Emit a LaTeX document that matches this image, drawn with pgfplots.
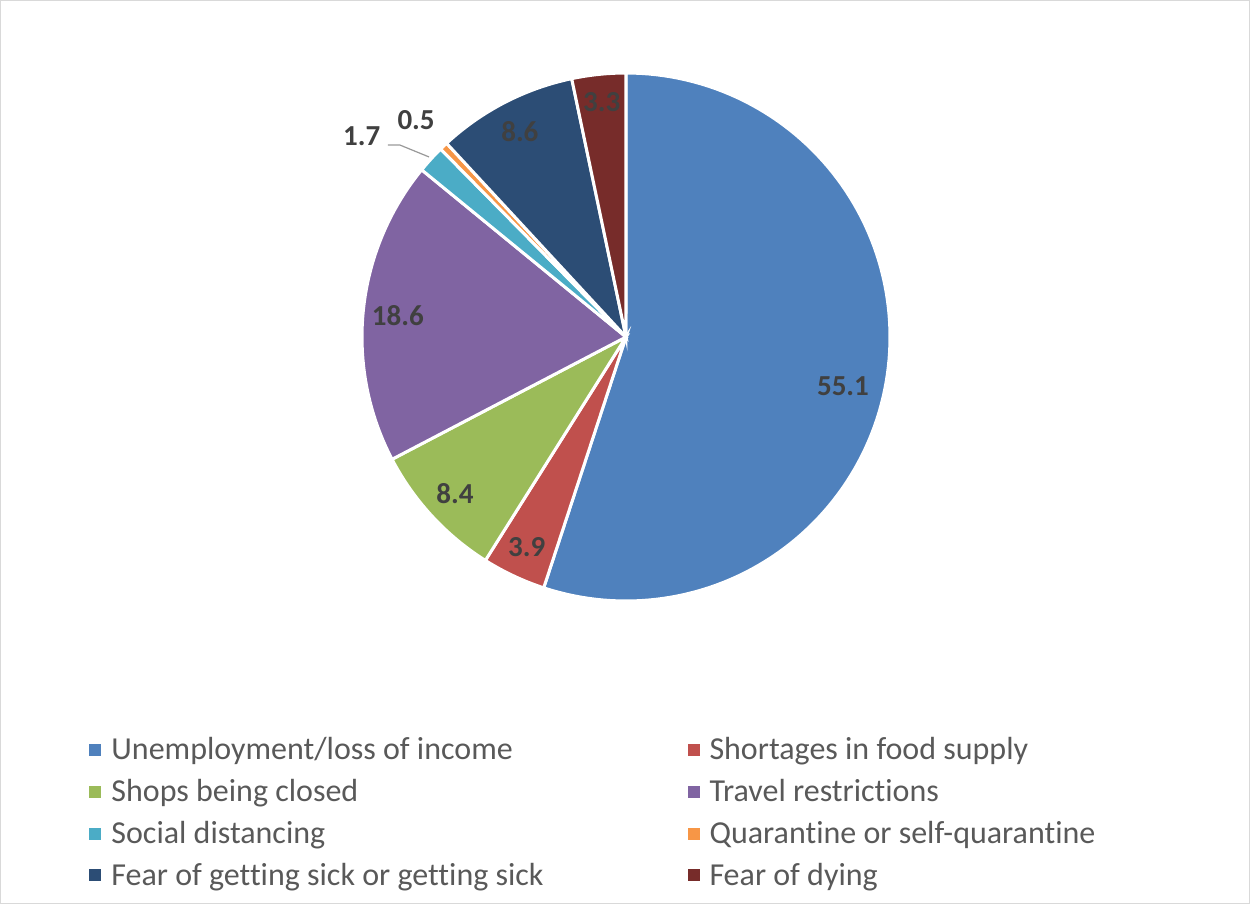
\documentclass[border=0pt]{standalone}
\usepackage{pgfplots}
\pgfplotsset{compat=1.18}
\usepackage{fontspec}
\setmainfont{Carlito}[Ligatures=NoCommon]
\definecolor{c1}{HTML}{4F81BD}
\definecolor{c2}{HTML}{C0504D}
\definecolor{c3}{HTML}{9BBB59}
\definecolor{c4}{HTML}{8064A2}
\definecolor{c5}{HTML}{4BACC6}
\definecolor{c6}{HTML}{F79646}
\definecolor{c7}{HTML}{2C4D75}
\definecolor{c8}{HTML}{772C2A}
\definecolor{lblgray}{HTML}{404040}
\definecolor{leggray}{HTML}{595959}
\definecolor{framegray}{HTML}{D9D9D9}
\begin{document}
\begin{tikzpicture}
\path[use as bounding box] (0pt,0pt) rectangle (625pt,-452pt);
\draw[framegray, line width=0.6pt] (0.3pt,-0.3pt) rectangle (624.7pt,-451.7pt);
\begin{axis}[
  at={(313pt,-168.5pt)}, anchor=center,
  x=132pt, y=132pt,
  xmin=-1, xmax=1, ymin=-1, ymax=1,
  hide axis, clip=false,
  legend columns=2,
  legend cell align=left,
  legend image code/.code={\path[#1,draw=none] (0pt,-3pt) rectangle (6pt,3pt);},
  legend style={
    at={(-0.517,-0.250)}, anchor=north west,
    draw=none, fill=none, inner sep=0pt,
    font=\fontsize{16pt}{19pt}\selectfont, text=leggray,
    row sep=4.3pt,
    /tikz/every odd column/.append style={column sep=3pt},
    /tikz/column 2/.style={column sep=70pt},
  },
]
\addplot[fill=c1, draw=white, line width=1.5pt, domain=-108.16:90, samples=120, variable=\t] ({cos(\t)},{sin(\t)}) -- (0,0) -- cycle;
\addlegendentry{Unemployment/loss of income}
\addplot[fill=c2, draw=white, line width=1.5pt, domain=-122.19:-108.16, samples=12, variable=\t] ({cos(\t)},{sin(\t)}) -- (0,0) -- cycle;
\addlegendentry{Shortages in food supply}
\addplot[fill=c3, draw=white, line width=1.5pt, domain=-152.40:-122.19, samples=24, variable=\t] ({cos(\t)},{sin(\t)}) -- (0,0) -- cycle;
\addlegendentry{Shops being closed}
\addplot[fill=c4, draw=white, line width=1.5pt, domain=-219.29:-152.40, samples=45, variable=\t] ({cos(\t)},{sin(\t)}) -- (0,0) -- cycle;
\addlegendentry{Travel restrictions}
\addplot[fill=c5, draw=white, line width=1.5pt, domain=-225.40:-219.29, samples=6, variable=\t] ({cos(\t)},{sin(\t)}) -- (0,0) -- cycle;
\addlegendentry{Social distancing}
\addplot[fill=c6, draw=white, line width=1.5pt, domain=-227.20:-225.40, samples=3, variable=\t] ({cos(\t)},{sin(\t)}) -- (0,0) -- cycle;
\addlegendentry{Quarantine or self-quarantine}
\addplot[fill=c7, draw=white, line width=1.5pt, domain=-258.13:-227.20, samples=24, variable=\t] ({cos(\t)},{sin(\t)}) -- (0,0) -- cycle;
\addlegendentry{Fear of getting sick or getting sick}
\addplot[fill=c8, draw=white, line width=1.5pt, domain=-270:-258.13, samples=10, variable=\t] ({cos(\t)},{sin(\t)}) -- (0,0) -- cycle;
\addlegendentry{Fear of dying}
% leader line for 1.7
\addplot[forget plot, color=black!40, line width=0.6pt, mark=none] coordinates {(-0.902,0.727) (-0.856,0.727) (-0.746,0.682)};
% data labels
\addplot[forget plot, draw=none, mark=none, nodes near coords, point meta=explicit symbolic,
  nodes near coords style={anchor=center, inner sep=0pt, text=lblgray, font=\fontsize{14.5pt}{17pt}\selectfont\bfseries}]
  coordinates {
  (0.822,-0.186) [55.1]
  (-0.376,-0.794) [3.9]
  (-0.648,-0.592) [8.4]
  (-0.864,0.080) [18.6]
  (-1.001,0.759) [1.7]
  (-0.795,0.822) [0.5]
  (-0.402,0.778) [8.6]
  (-0.092,0.888) [3.3]
  };
\end{axis}
\end{tikzpicture}
\end{document}
